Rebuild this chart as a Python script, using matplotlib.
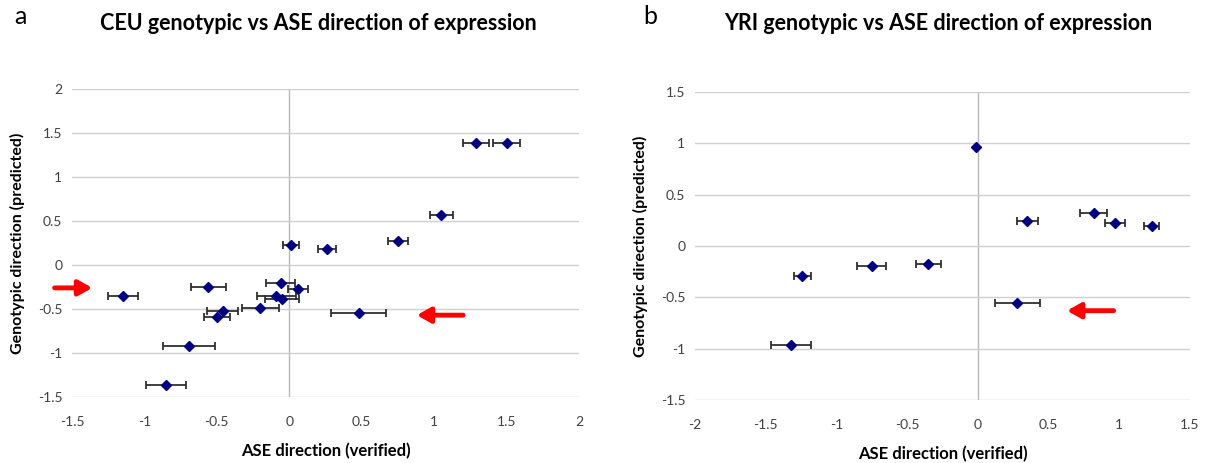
import matplotlib
matplotlib.use('Agg')
import matplotlib.pyplot as plt

plt.rcParams['font.family'] = ['Lato', 'DejaVu Sans']

# CEU panel (a)
ceu_x = [1.29, 1.50, 1.05, 0.75, 0.01, 0.26, -0.06, 0.06, -0.56, -1.15,
         -0.09, -0.05, -0.20, -0.46, -0.50, 0.48, -0.69, -0.85]
ceu_y = [1.39, 1.39, 0.57, 0.27, 0.23, 0.18, -0.21, -0.27, -0.25, -0.35,
         -0.35, -0.39, -0.49, -0.52, -0.59, -0.55, -0.92, -1.36]
ceu_err = [0.09, 0.093, 0.08, 0.07, 0.056, 0.063, 0.10, 0.072, 0.12, 0.103,
           0.136, 0.12, 0.128, 0.105, 0.088, 0.19, 0.18, 0.14]

# YRI panel (b)
yri_x = [-0.01, 0.35, 0.82, 0.97, 1.23, -0.75, -0.35, -1.24, 0.28, -1.32]
yri_y = [0.96, 0.24, 0.32, 0.22, 0.19, -0.19, -0.18, -0.29, -0.56, -0.96]
yri_err = [0.0, 0.076, 0.095, 0.07, 0.052, 0.103, 0.087, 0.062, 0.16, 0.143]

# red arrows: (tail x, head x, y)
ceu_arrows = [(-1.62, -1.36, -0.26), (1.20, 0.88, -0.57)]
yri_arrows = [(0.96, 0.63, -0.63)]

W, H = 1217, 463
fig = plt.figure(figsize=(W / 100, H / 100), dpi=100)
ax1 = fig.add_axes([72 / W, 1 - 397 / H, 507 / W, 308 / H])
ax2 = fig.add_axes([695 / W, 1 - 400 / H, 495 / W, 308 / H])


def style(ax, xlim, ylim, xticks, yticks):
    ax.set_xlim(*xlim)
    ax.set_ylim(*ylim)
    ax.set_xticks(xticks)
    ax.set_yticks(yticks)
    ax.set_xticklabels([f'{t:g}' for t in xticks])
    ax.set_yticklabels([f'{t:g}' for t in yticks])
    for s in ax.spines.values():
        s.set_visible(False)
    ax.grid(axis='y', color='#d0d0d0', lw=1)
    ax.set_axisbelow(True)
    ax.axvline(0, color='#b8b8b8', lw=1, zorder=0)
    ax.tick_params(length=0, labelsize=10, colors='#404040')
    ax.tick_params(axis='x', pad=14)
    ax.tick_params(axis='y', pad=7)
    ax.set_xlabel('ASE direction (verified)', fontsize=12, fontweight='bold', va='center')
    ax.xaxis.set_label_coords(0.5, -54 / 308)
    ax.set_ylabel('Genotypic direction (predicted)', fontsize=11.5, fontweight='bold', labelpad=9)


def draw(ax, xs, ys, errs, arrows):
    ax.errorbar(xs, ys, xerr=errs, fmt='D', ms=5, color='#000080',
                ecolor='#303030', elinewidth=1.3, capsize=3, capthick=1.3, zorder=3)
    for x0, x1, y in arrows:
        ax.annotate('', xy=(x1, y), xytext=(x0, y), annotation_clip=False,
                    arrowprops=dict(arrowstyle='-|>,head_width=0.45,head_length=0.8',
                                    lw=3.5, color='#ff0000', shrinkA=0, shrinkB=0))


style(ax1, (-1.5, 2), (-1.5, 2), [-1.5, -1, -0.5, 0, 0.5, 1, 1.5, 2],
      [-1.5, -1, -0.5, 0, 0.5, 1, 1.5, 2])
draw(ax1, ceu_x, ceu_y, ceu_err, ceu_arrows)

style(ax2, (-2, 1.5), (-1.5, 1.5), [-2, -1.5, -1, -0.5, 0, 0.5, 1, 1.5],
      [-1.5, -1, -0.5, 0, 0.5, 1, 1.5])
draw(ax2, yri_x, yri_y, yri_err, yri_arrows)

fig.text(318 / W, 1 - 23 / H, 'CEU genotypic vs ASE direction of expression',
         fontsize=15.5, fontweight='bold', ha='center', va='center')
fig.text(938 / W, 1 - 23 / H, 'YRI genotypic vs ASE direction of expression',
         fontsize=15.5, fontweight='bold', ha='center', va='center')
fig.text(20 / W, 1 - 17 / H, 'a', fontsize=18, ha='center', va='center')
fig.text(650 / W, 1 - 17 / H, 'b', fontsize=18, ha='center', va='center')

fig.savefig('out.png', dpi=100)
